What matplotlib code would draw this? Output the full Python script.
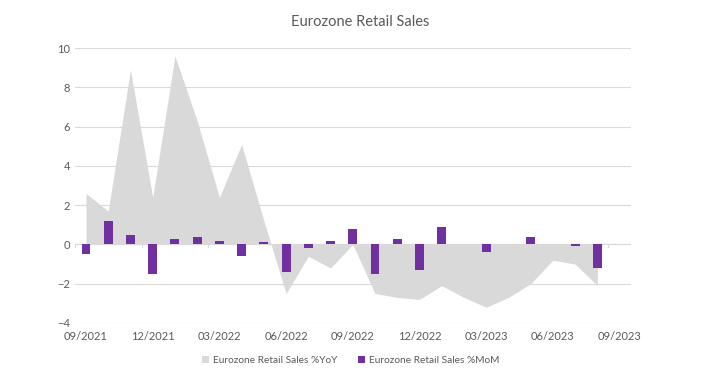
import numpy as np
import matplotlib
matplotlib.use("Agg")
import matplotlib.pyplot as plt

plt.rcParams["font.family"] = ["Lato", "DejaVu Sans"]

# monthly data, 09/2021 .. 08/2023
months = ["09/2021", "10/2021", "11/2021", "12/2021", "01/2022", "02/2022", "03/2022",
          "04/2022", "05/2022", "06/2022", "07/2022", "08/2022", "09/2022", "10/2022",
          "11/2022", "12/2022", "01/2023", "02/2023", "03/2023", "04/2023", "05/2023",
          "06/2023", "07/2023", "08/2023"]
yoy = [2.6, 1.7, 8.9, 2.4, 9.6, 6.3, 2.4, 5.1, 1.2, -2.5, -0.6, -1.2,
       0.0, -2.5, -2.7, -2.8, -2.1, -2.7, -3.2, -2.7, -2.0, -0.8, -1.0, -2.1]
mom = [-0.5, 1.2, 0.5, -1.5, 0.3, 0.4, 0.2, -0.6, 0.1, -1.4, -0.2, 0.2,
       0.8, -1.5, 0.3, -1.3, 0.9, 0.0, -0.4, 0.0, 0.4, 0.0, -0.1, -1.2]
tick_labels = ["09/2021", "12/2021", "03/2022", "06/2022", "09/2022",
               "12/2022", "03/2023", "06/2023", "09/2023"]

TXT = "#595959"
GRID = "#d9d9d9"
AREA = "#d9d9d9"
BAR = "#7030a0"

fig = plt.figure(figsize=(7.2, 3.91), dpi=100)
ax = fig.add_axes([0.104, 0.174, 0.772, 0.703])

x = np.arange(len(months))
ax.fill_between(x, 0, yoy, color=AREA, lw=0, label="Eurozone Retail Sales %YoY", zorder=1)
ax.bar(x, mom, width=0.4, color=BAR, label="Eurozone Retail Sales %MoM", zorder=3)

ax.set_ylim(-4, 10)
ax.set_yticks(range(-4, 11, 2))
ax.set_xlim(-0.5, 24.5)
ax.set_xticks(np.arange(0, 25, 3))
ax.set_xticklabels(tick_labels)
ax.tick_params(axis="both", length=0, labelsize=8, colors=TXT)
ax.tick_params(axis="x", pad=6)
ax.grid(axis="y", color=GRID, lw=0.8, zorder=0)
ax.set_axisbelow(True)
for s in ax.spines.values():
    s.set_visible(False)
# horizontal axis line at zero with small ticks between quarters
ax.axhline(0, color=GRID, lw=0.8, zorder=2)
for t in np.arange(-0.5, 24.6, 3):
    ax.plot([t, t], [0, -0.15], color=GRID, lw=0.8, zorder=2)

fig.text(0.5, 0.945, "Eurozone Retail Sales", ha="center", va="center", fontsize=10.5, color=TXT)
fig.legend(loc="center", bbox_to_anchor=(0.487, 0.077), ncol=2, frameon=False,
           fontsize=7.3, labelcolor=TXT, handlelength=0.7, handleheight=0.7,
           handletextpad=0.4, columnspacing=2.0)

fig.savefig("out.png", dpi=100, facecolor="white")
